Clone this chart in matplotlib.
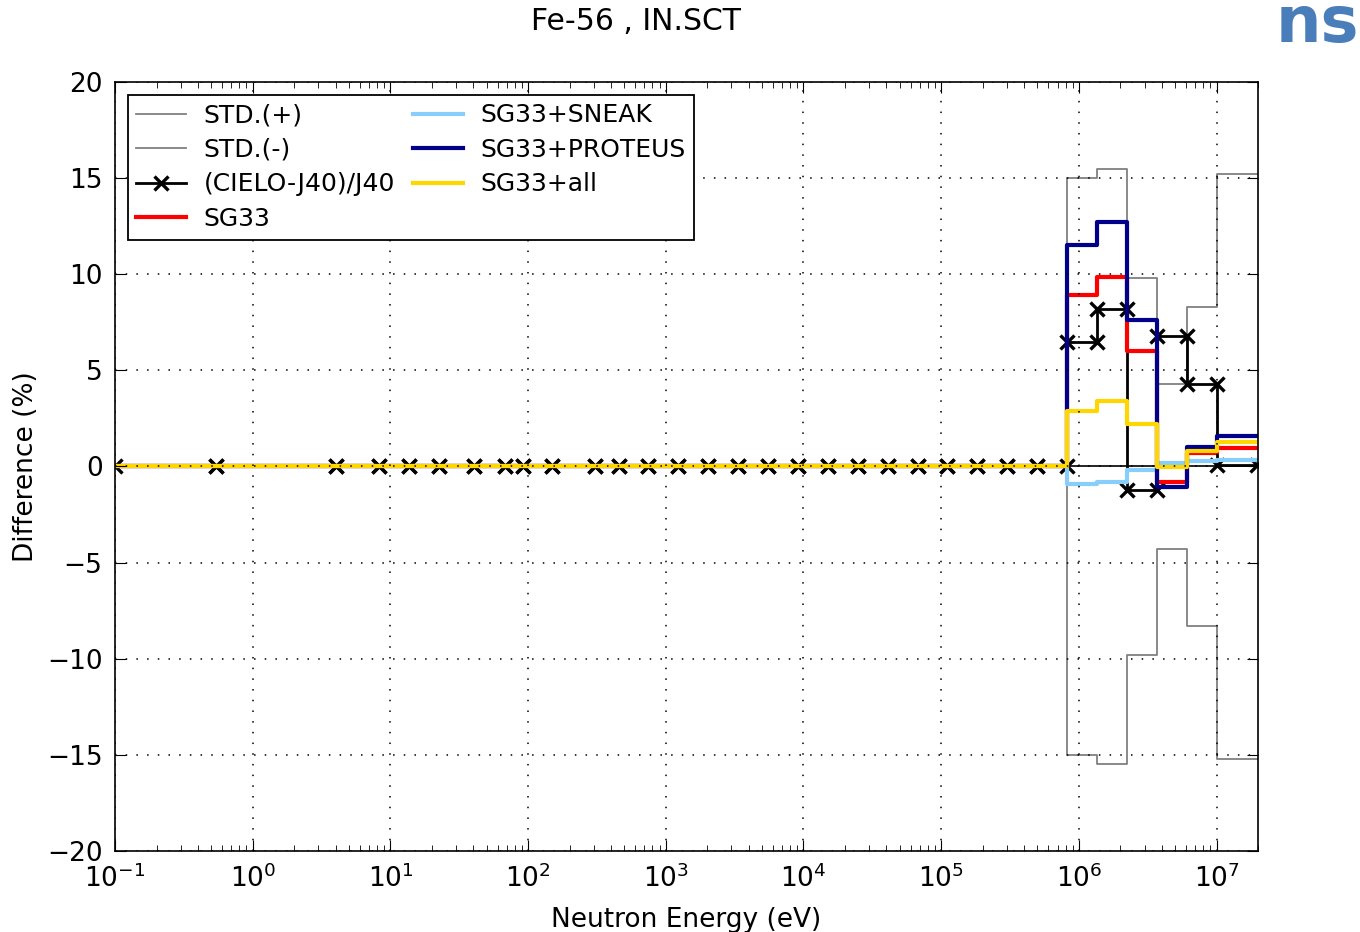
import numpy as np
import matplotlib
matplotlib.use('Agg')
import matplotlib.pyplot as plt

# ECCO 33-group boundaries (eV), ascending
bounds = [0.1, 0.54, 4.0, 8.3153, 13.71, 22.603, 40.169, 67.904, 91.661,
          148.63, 304.32, 453.99, 748.52, 1234.1, 2034.7, 3354.6, 5530.8,
          9118.8, 15034, 24788, 40868, 67379, 1.1109e5, 1.8316e5, 3.0197e5,
          4.9787e5, 8.2085e5, 1.3534e6, 2.2313e6, 3.6788e6, 6.0653e6, 1.0e7,
          1.964e7]

# values for the six highest groups (8.2e5 eV .. 1.964e7 eV); lower groups are 0
n_low = len(bounds) - 1 - 6
std_plus = [0.0] * n_low + [15.0, 15.5, 9.8, 4.3, 8.3, 15.2]
std_minus = [0.0] * n_low + [-15.0, -15.5, -9.8, -4.3, -8.3, -15.2]
cielo = [0.0] * n_low + [6.5, 8.2, -1.2, 6.8, 4.3, 0.1]
sg33 = [0.0] * n_low + [8.9, 9.85, 6.0, -0.8, 0.7, 0.95]
sg33_sneak = [0.0] * n_low + [-0.9, -0.8, -0.2, 0.2, 0.3, 0.35]
sg33_proteus = [0.0] * n_low + [11.5, 12.7, 7.6, -1.05, 1.0, 1.6]
sg33_all = [0.0] * n_low + [2.9, 3.4, 2.2, -0.05, 0.8, 1.25]


def steps(vals):
    # each group drawn from its lower to its upper boundary
    xs, ys = [], []
    for i, v in enumerate(vals):
        xs += [bounds[i], bounds[i + 1]]
        ys += [v, v]
    return np.array(xs), np.array(ys)


plt.rcParams['font.family'] = 'DejaVu Sans'
plt.rcParams['font.size'] = 18
plt.rcParams['mathtext.default'] = 'regular'

fig = plt.figure(figsize=(13.6, 9.32), dpi=100)
ax = fig.add_axes([0.0846, 0.087, 0.8404, 0.825])

ax.axhline(0, color='k', lw=1.2, zorder=1)

series = [
    ('STD.(+)', std_plus, dict(color='gray', lw=1.3)),
    ('STD.(-)', std_minus, dict(color='gray', lw=1.3)),
    ('(CIELO-J40)/J40', cielo, dict(color='k', lw=2, marker='x', ms=10, mew=2.4)),
    ('SG33', sg33, dict(color='red', lw=3)),
    ('SG33+SNEAK', sg33_sneak, dict(color='#87CEFA', lw=3)),
    ('SG33+PROTEUS', sg33_proteus, dict(color='#00008B', lw=3)),
    ('SG33+all', sg33_all, dict(color='#FFD700', lw=3)),
]
for label, vals, st in series:
    xs, ys = steps(vals)
    ax.plot(xs, ys, label=label, **st)

ax.set_xscale('log')
ax.set_xlim(0.1, 2e7)
ax.set_ylim(-20, 20)
ax.set_yticks(np.arange(-20, 21, 5))
ax.grid(True, color='k', linestyle=(0, (1, 6)), lw=1.1)
ax.set_axisbelow(False)
ax.tick_params(which='both', direction='in', top=True, right=True, labelsize=19)
ax.tick_params(axis='x', pad=10)
ax.tick_params(axis='y', pad=9)
ax.tick_params(which='major', length=8)
ax.tick_params(which='minor', length=4)
for sp in ax.spines.values():
    sp.set_linewidth(1.2)

ax.set_xlabel('Neutron Energy (eV)', fontsize=19, labelpad=10)
ax.set_ylabel('Difference (%)', fontsize=19, labelpad=6)
fig.text(636 / 1360, 1 - 22 / 932, 'Fe-56 , IN.SCT', fontsize=21.5,
         ha='center', va='center')

leg = ax.legend(loc='upper left', ncol=2, fontsize=18, fancybox=False,
                framealpha=1, edgecolor='k', handlelength=2.0,
                labelspacing=0.42, columnspacing=0.7, borderaxespad=0.5,
                handletextpad=0.7, borderpad=0.35)
leg.get_frame().set_linewidth(1.3)

fig.text(0.999, 1.008, 'ns', color='#4A7EBB', fontsize=46, fontweight='bold',
         ha='right', va='top')

fig.savefig('out.png', dpi=100)
